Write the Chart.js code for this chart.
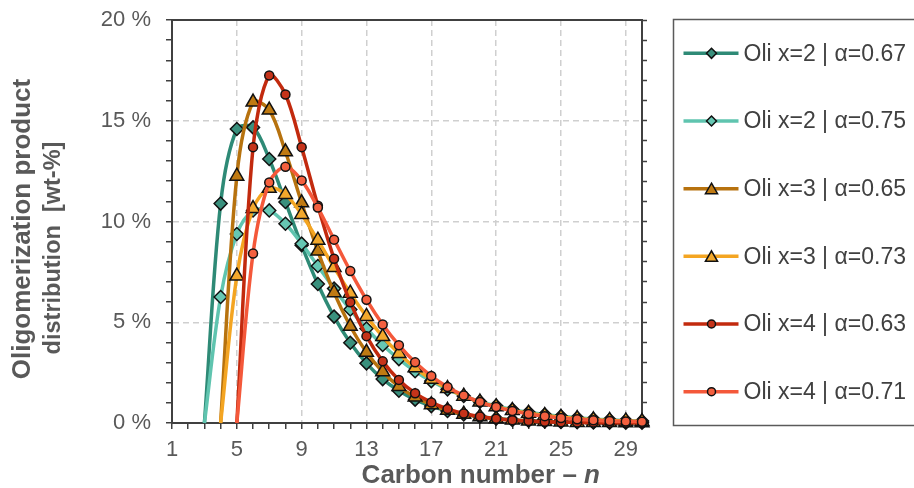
<!DOCTYPE html>
<html>
<head>
<meta charset="utf-8">
<title>Oligomerization product distribution</title>
<script src="https://cdn.jsdelivr.net/npm/chart.js@4.4.1/dist/chart.umd.min.js"></script>
<style>
    html, body { margin: 0; padding: 0; background: #ffffff; }
    #wrap { position: relative; width: 914px; height: 488px; }
</style>
</head>
<body>
<div id="wrap"><canvas id="oliChart"></canvas></div>
<script>
// carbon numbers n = 3 ... 30, values in wt-% (null = not formed)
var carbonNumbers = [3, 4, 5, 6, 7, 8, 9, 10, 11, 12, 13, 14, 15, 16, 17, 18, 19, 20, 21, 22, 23, 24, 25, 26, 27, 28, 29, 30];

var oliX2a067 = [0, 10.89, 14.59, 14.67, 13.10, 10.97, 8.82, 6.90, 5.28, 3.98, 2.96, 2.18, 1.60, 1.16, 0.84, 0.60, 0.43, 0.31, 0.22, 0.15, 0.11, 0.08, 0.05, 0.04, 0.03, 0.02, 0.01, 0.01];
var oliX2a075 = [0, 6.25, 9.38, 10.55, 10.55, 9.89, 8.90, 7.79, 6.67, 5.63, 4.69, 3.87, 3.17, 2.57, 2.08, 1.67, 1.34, 1.06, 0.85, 0.67, 0.53, 0.42, 0.33, 0.26, 0.20, 0.16, 0.12, 0.10];
var oliX3a065 = [null, 0, 12.25, 15.93, 15.53, 13.46, 10.93, 8.53, 6.47, 4.80, 3.51, 2.54, 1.81, 1.29, 0.91, 0.63, 0.44, 0.31, 0.21, 0.15, 0.10, 0.07, 0.05, 0.03, 0.02, 0.02, 0.01, 0.01];
var oliX3a073 = [null, 0, 7.29, 10.64, 11.65, 11.34, 10.35, 9.07, 7.72, 6.44, 5.29, 4.29, 3.45, 2.74, 2.17, 1.71, 1.33, 1.04, 0.81, 0.62, 0.48, 0.37, 0.28, 0.22, 0.16, 0.13, 0.10, 0.07];
var oliX4a063 = [null, null, 0, 13.69, 17.25, 16.30, 13.69, 10.78, 8.15, 5.99, 4.31, 3.06, 2.14, 1.48, 1.02, 0.70, 0.47, 0.32, 0.21, 0.14, 0.10, 0.06, 0.04, 0.03, 0.02, 0.01, 0.01, 0.01];
var oliX4a071 = [null, null, 0, 8.41, 11.94, 12.72, 12.04, 10.69, 9.10, 7.54, 6.12, 4.89, 3.86, 3.01, 2.33, 1.79, 1.37, 1.04, 0.79, 0.60, 0.45, 0.34, 0.25, 0.19, 0.14, 0.10, 0.08, 0.06];

var seriesLabels = [
    "Oli x=2 | α=0.67",
    "Oli x=2 | α=0.75",
    "Oli x=3 | α=0.65",
    "Oli x=3 | α=0.73",
    "Oli x=4 | α=0.63",
    "Oli x=4 | α=0.71"
];
var xTickLabels = [1, 5, 9, 13, 17, 21, 25, 29];
var yTickLabels = [0, 5, 10, 15, 20];

document.addEventListener("DOMContentLoaded", function () {
    var seriesValues = [oliX2a067, oliX2a075, oliX3a065, oliX3a073, oliX4a063, oliX4a071];

    // line colour, marker fill, marker shape, marker radius, legend marker radius
    var looks = [
        { line: "#2e8a76", fill: "#3a907d", shape: "rectRot", r: 6.5, lr: 5 },
        { line: "#5fc4af", fill: "#66c7b3", shape: "rectRot", r: 6.5, lr: 5 },
        { line: "#b7720e", fill: "#c07a12", shape: "triangle", r: 8, lr: 7 },
        { line: "#f4a522", fill: "#f2a82c", shape: "triangle", r: 8, lr: 7 },
        { line: "#c22a0e", fill: "#c5331a", shape: "circle", r: 4.5, lr: 4 },
        { line: "#f4583a", fill: "#f4603f", shape: "circle", r: 4.5, lr: 4 }
    ];

    var toPoints = function (values) {
        var pts = [];
        for (var i = 0; i < carbonNumbers.length; i++) {
            if (values[i] !== null) pts.push({ x: carbonNumbers[i], y: values[i] });
        }
        return pts;
    };

    var datasets = seriesValues.map(function (vals, i) {
        var lk = looks[i];
        return {
            label: seriesLabels[i],
            data: toPoints(vals),
            xAxisID: "x",
            yAxisID: "y",
            borderColor: lk.line,
            backgroundColor: lk.fill,
            borderWidth: 3.5,
            tension: 0.33,
            pointStyle: lk.shape,
            pointRadius: function (c) { return c.dataIndex === 0 ? 0 : lk.r; }, // no marker on the zero start
            pointHoverRadius: lk.r,
            pointBackgroundColor: lk.fill,
            pointBorderColor: "#111111",
            pointBorderWidth: 1.5,
            clip: false,
            order: 5 - i // later series on top, like the original
        };
    });

    var axisColor = "#404040";
    var textColor = "#595959";
    var gridColor = "#cfcfcf";
    var clear = "rgba(0,0,0,0)";
    var family = "Arial, 'Liberation Sans', sans-serif";

    var drawMarker = function (ctx, shape, x, y, r) {
        ctx.beginPath();
        if (shape === "rectRot") {
            ctx.moveTo(x - r, y); ctx.lineTo(x, y - r); ctx.lineTo(x + r, y); ctx.lineTo(x, y + r);
            ctx.closePath();
        } else if (shape === "triangle") {
            ctx.moveTo(x, y - r);
            ctx.lineTo(x + r * Math.sin(2 * Math.PI / 3), y - r * Math.cos(2 * Math.PI / 3));
            ctx.lineTo(x - r * Math.sin(2 * Math.PI / 3), y - r * Math.cos(2 * Math.PI / 3));
            ctx.closePath();
        } else {
            ctx.arc(x, y, r, 0, Math.PI * 2);
        }
        ctx.fill();
        ctx.stroke();
    };

    // boxed legend on the right plus both axis titles
    var extras = {
        id: "extras",
        afterDraw: function (chart) {
            var ctx = chart.ctx;
            var area = chart.chartArea;
            ctx.save();

            var left = area.right + 31.5;
            var top = area.top - 0.5;
            var bottom = area.bottom + 2.5;
            ctx.strokeStyle = "#5a5a5a";
            ctx.lineWidth = 1.5;
            ctx.strokeRect(left, top, chart.width - left + 20, bottom - top);

            var step = (bottom - top) / datasets.length;
            datasets.forEach(function (ds, i) {
                var lk = looks[i];
                var y = top + step * (i + 0.5);
                ctx.strokeStyle = lk.line;
                ctx.lineWidth = 3.5;
                ctx.beginPath();
                ctx.moveTo(left + 10, y);
                ctx.lineTo(left + 65, y);
                ctx.stroke();
                ctx.fillStyle = lk.fill;
                ctx.strokeStyle = "#111111";
                ctx.lineWidth = 1.5;
                drawMarker(ctx, lk.shape, left + 38, y + (lk.shape === "triangle" ? 1.5 : 0), lk.lr);
                ctx.fillStyle = "#404040";
                ctx.font = "23px " + family;
                ctx.textBaseline = "middle";
                ctx.textAlign = "left";
                ctx.fillText(ds.label, left + 70, y + 1);
            });

            // x axis title
            var part1 = "Carbon number \u2013 ";
            var part2 = "n";
            var f1 = "bold 26px " + family;
            var f2 = "italic bold 26px " + family;
            ctx.font = f1;
            var w1 = ctx.measureText(part1).width;
            ctx.font = f2;
            var w2 = ctx.measureText(part2).width;
            var cx = area.left + (area.right - area.left) * 0.657;
            var x0 = cx - (w1 + w2) / 2;
            var base = area.bottom + 60;
            ctx.fillStyle = textColor;
            ctx.textBaseline = "alphabetic";
            ctx.font = f1;
            ctx.fillText(part1, x0, base);
            ctx.font = f2;
            ctx.fillText(part2, x0 + w1, base);

            // y axis title, two rotated lines
            ctx.rotate(-Math.PI / 2);
            ctx.textAlign = "center";
            ctx.textBaseline = "middle";
            ctx.font = "bold 26px " + family;
            ctx.fillText("Oligomerization product", -229, 23);
            ctx.font = "bold 23.5px " + family;
            ctx.fillText("distribution  [wt-%]", -248, 54);
            ctx.restore();
        }
    };

    Chart.defaults.font.family = family;
    Chart.defaults.color = textColor;

    new Chart(document.getElementById("oliChart").getContext("2d"), {
        type: "line",
        data: { datasets: datasets },
        plugins: [extras],
        options: {
            responsive: true,
            maintainAspectRatio: false,
            animation: false,
            layout: { padding: 0 },
            plugins: {
                legend: { display: false },
                tooltip: { enabled: false }
            },
            scales: {
                x: {
                    type: "linear",
                    position: "bottom",
                    min: 1,
                    max: 30,
                    ticks: {
                        stepSize: 1,
                        autoSkip: false,
                        maxRotation: 0,
                        padding: 8,
                        color: textColor,
                        font: { size: 22 },
                        callback: function (v) {
                            return xTickLabels.indexOf(v) >= 0 ? String(v) : "";
                        }
                    },
                    grid: {
                        color: function (c) {
                            var v = c.tick ? c.tick.value : null;
                            return v > 1 && v < 30 && xTickLabels.indexOf(v) >= 0 ? gridColor : clear;
                        },
                        lineWidth: 1.5,
                        tickColor: axisColor,
                        tickLength: 6,
                        tickWidth: 1.5
                    },
                    border: { color: axisColor, width: 2, dash: [6, 4] },
                    afterFit: function (scale) {
                        scale.height = 65;
                        scale.paddingLeft = 0;
                        scale.paddingRight = 0;
                    }
                },
                y: {
                    type: "linear",
                    position: "left",
                    min: 0,
                    max: 20,
                    ticks: {
                        stepSize: 1,
                        autoSkip: false,
                        padding: 15,
                        color: textColor,
                        font: { size: 22 },
                        callback: function (v) {
                            return yTickLabels.indexOf(v) >= 0 ? v + " %" : "";
                        }
                    },
                    grid: {
                        color: function (c) {
                            var v = c.tick ? c.tick.value : null;
                            return v > 0 && v < 20 && yTickLabels.indexOf(v) >= 0 ? gridColor : clear;
                        },
                        lineWidth: 1.5,
                        tickColor: axisColor,
                        tickLength: 6,
                        tickWidth: 1.5
                    },
                    border: { color: axisColor, width: 2, dash: [6, 4] },
                    afterFit: function (scale) {
                        scale.width = 172;
                        scale.paddingTop = 0;
                        scale.paddingBottom = 0;
                    }
                },
                x2: {
                    type: "linear",
                    position: "top",
                    min: 1,
                    max: 30,
                    ticks: { display: false },
                    grid: { display: false, drawTicks: false },
                    border: { color: axisColor, width: 2 },
                    afterFit: function (scale) { scale.height = 20; }
                },
                y2: {
                    type: "linear",
                    position: "right",
                    min: 0,
                    max: 20,
                    ticks: { display: false, stepSize: 1 },
                    grid: {
                        drawOnChartArea: false,
                        tickColor: axisColor,
                        tickLength: 5,
                        tickWidth: 1.5
                    },
                    border: { color: axisColor, width: 2 },
                    afterFit: function (scale) {
                        scale.width = 272;
                        scale.paddingTop = 0;
                        scale.paddingBottom = 0;
                    }
                }
            }
        }
    });
});
</script>
</body>
</html>
